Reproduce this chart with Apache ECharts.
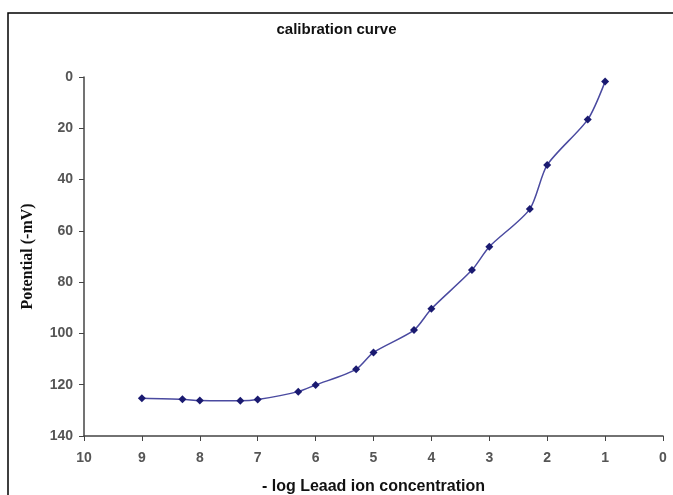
<!DOCTYPE html>
<html>
<head>
<meta charset="utf-8">
<script src="https://cdn.jsdelivr.net/npm/echarts@6/dist/echarts.min.js"></script>
<style>
html, body { margin: 0; padding: 0; background: #fff; }
#calChart { width: 673px; height: 495px; }
</style>
</head>
<body>
<div id="calChart"></div>
<script>
// -log concentration values and measured potentials (-mV)
var logConc = [9, 8.3, 8, 7.3, 7, 6.3, 6, 5.3, 5, 4.3, 4, 3.3, 3, 2.3, 2, 1.3, 1];
var potential = [125.3, 125.7, 126.2, 126.3, 125.8, 122.7, 120.1, 114, 107.4, 98.7, 90.4, 75.3, 66.2, 51.5, 34.3, 16.6, 1.8];

var myChart = echarts.init(document.getElementById('calChart'));

var points = [];
for (var i = 0; i < logConc.length; i++) {
	points.push([logConc[i], potential[i]]);
}

var option = {
	animation: false,
	backgroundColor: '#fff',
	title: {
		text: 'calibration curve',
		left: 'center',
		top: 17,
		textStyle: {
			fontFamily: 'Liberation Sans',
			fontSize: 15,
			fontWeight: 'bold',
			color: '#111'
		}
	},
	graphic: [{
		type: 'polyline',
		shape: { points: [[8, 500], [8, 13], [680, 13]] },
		style: { stroke: '#000', lineWidth: 1.5, fill: null }
	}],
	grid: {
		left: 84,
		right: 10,
		top: 77,
		bottom: 59,
		outerBoundsMode: 'none'
	},
	xAxis: {
		type: 'value',
		min: 0,
		max: 10,
		interval: 1,
		inverse: true,
		name: '- log Leaad ion concentration',
		nameLocation: 'middle',
		nameGap: 43,
		nameTextStyle: {
			fontFamily: 'Liberation Sans',
			fontSize: 16,
			fontWeight: 'bold',
			color: '#111'
		},
		axisLine: { onZero: false, lineStyle: { color: '#444', width: 1.5 } },
		axisTick: { show: true, length: 5, lineStyle: { color: '#444' } },
		axisLabel: {
			fontFamily: 'Liberation Sans',
			fontSize: 14,
			fontWeight: 'bold',
			color: '#555',
			margin: 15
		},
		splitLine: { show: false }
	},
	yAxis: {
		type: 'value',
		min: 0,
		max: 140,
		interval: 20,
		inverse: true,
		name: 'Potential (-mV)',
		nameLocation: 'middle',
		nameGap: 48,
		nameTextStyle: {
			fontFamily: 'Liberation Serif',
			fontSize: 16,
			fontWeight: 'bold',
			color: '#111'
		},
		axisLine: { show: true, onZero: false, lineStyle: { color: '#444', width: 1.5 } },
		axisTick: { show: true, length: 5, lineStyle: { color: '#444' } },
		axisLabel: {
			fontFamily: 'Liberation Sans',
			fontSize: 14,
			fontWeight: 'bold',
			color: '#555',
			margin: 11
		},
		splitLine: { show: false }
	},
	series: [{
		name: 'potential',
		type: 'line',
		data: points,
		smooth: 0.25,
		symbol: 'diamond',
		symbolSize: 8,
		itemStyle: { color: '#1a1a70' },
		lineStyle: { color: '#4a4aa0', width: 1.5 }
	}]
};

myChart.setOption(option);
window.onresize = myChart.resize;
</script>
</body>
</html>
